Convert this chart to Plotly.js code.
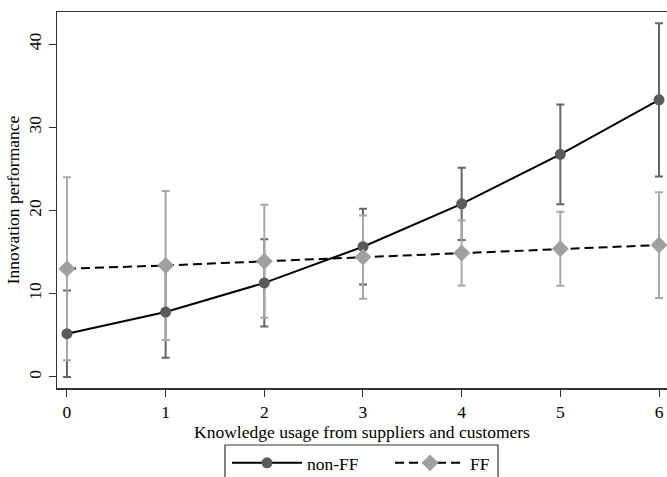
<!DOCTYPE html>
<html><head><meta charset="utf-8">
<script src="https://cdn.plot.ly/plotly-3.0.1.min.js"></script>
<style>html,body{margin:0;padding:0;background:#fff}</style>
</head><body><div id="chart" style="width:667px;height:477px"></div>
<script>
const xVals = [0, 1, 2, 3, 4, 5, 6];
const nonFF = [5.2, 7.8, 11.3, 15.65, 20.8, 26.75, 33.3];
const nonFFErr = [5.2, 5.5, 5.25, 4.55, 4.35, 6.0, 9.2];
const FF = [13.0, 13.4, 13.9, 14.4, 14.9, 15.4, 15.85];
const FFErr = [11.0, 8.95, 6.8, 5.0, 3.9, 4.45, 6.35];
const seriesNames = ['non-FF', 'FF'];
const xTicks = [0, 1, 2, 3, 4, 5, 6];
const yTicks = [0, 10, 20, 30, 40];
const xTitle = 'Knowledge usage from suppliers and customers';
const yTitle = 'Innovation performance';

const font = 'Liberation Serif, Times New Roman, serif';
const fs = 17.5;
const traces = [
  {x: xVals, y: nonFF, type: 'scatter', mode: 'markers', marker: {size: 1, opacity: 0},
   error_y: {type: 'data', array: nonFFErr, visible: true, color: '#666666', thickness: 2, width: 4},
   showlegend: false, hoverinfo: 'skip'},
  {x: xVals, y: FF, type: 'scatter', mode: 'markers', marker: {size: 1, opacity: 0},
   error_y: {type: 'data', array: FFErr, visible: true, color: '#a8a8a8', thickness: 2, width: 4},
   showlegend: false, hoverinfo: 'skip'},
  {x: xVals, y: nonFF, type: 'scatter', mode: 'lines+markers', name: seriesNames[0], legend: 'legend',
   line: {color: '#000000', width: 2}, marker: {color: '#5a5a5a', size: 11, symbol: 'circle'}},
  {x: xVals, y: FF, type: 'scatter', mode: 'lines+markers', name: seriesNames[1], legend: 'legend2',
   line: {color: '#000000', width: 2, dash: '9px,5px'}, marker: {color: '#a0a0a0', size: 13, symbol: 'diamond'}}
];
const legendBase = {orientation: 'h', xref: 'container', yref: 'container', xanchor: 'left', y: 0.0671, yanchor: 'top',
  borderwidth: 0, bgcolor: 'rgba(0,0,0,0)', font: {family: font, size: fs}, itemwidth: 70};
const layout = {
  width: 667, height: 477,
  margin: {l: 57, r: 0, t: 12, b: 89},
  paper_bgcolor: '#ffffff', plot_bgcolor: '#ffffff',
  font: {family: font, size: fs, color: '#000'},
  xaxis: {range: [-0.101, 6.081], tickvals: xTicks, ticks: 'outside', ticklen: 7, tickcolor: '#333',
    showline: true, linecolor: '#333', linewidth: 1.5, mirror: true, showgrid: false, zeroline: false,
    tickfont: {family: font, size: fs}, title: {text: xTitle, font: {family: font, size: fs}, standoff: 0}},
  yaxis: {range: [-1.33, 43.86], tickvals: yTicks, ticks: 'outside', ticklen: 7, tickcolor: '#333', tickangle: -90,
    showline: true, linecolor: '#333', linewidth: 1.5, showgrid: false, zeroline: false, ticklabelstandoff: 1,
    tickfont: {family: font, size: fs}, title: {text: yTitle, font: {family: font, size: fs}, standoff: 0}},
  legend: Object.assign({}, legendBase, {x: 227 / 667}),
  legend2: Object.assign({}, legendBase, {x: 390 / 667}),
  shapes: [{type: 'rect', xref: 'paper', yref: 'paper', x0: 0.2754, x1: 0.7230, y0: -0.1516, y1: -0.30,
    line: {color: '#333', width: 1.2}, fillcolor: 'rgba(0,0,0,0)'}],
  showlegend: true
};
Plotly.newPlot('chart', traces, layout, {displayModeBar: false, staticPlot: true});
</script></body></html>
